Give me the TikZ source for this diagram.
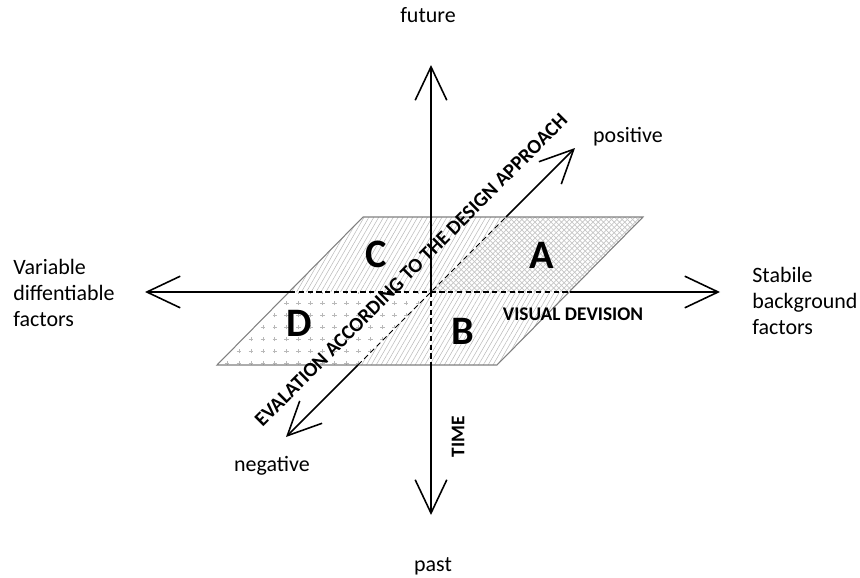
\documentclass[tikz,border=0pt]{standalone}
\usepackage{fontspec}
\setmainfont{Carlito}
\usetikzlibrary{arrows.meta,patterns,patterns.meta}

% plus signs for the lower left part of the plane
\tikzdeclarepattern{
  name=plussigns,
  type=uncolored,
  bounding box={(-3.4pt,-3.4pt) and (3.4pt,3.4pt)},
  tile size={(6.8pt,6.8pt)},
  code={\draw[line width=0.35pt] (-1.3pt,0pt) -- (1.3pt,0pt) (0pt,-1.3pt) -- (0pt,1.3pt);}
}

\tikzset{
  axisline/.style={line width=0.9pt, -{Straight Barb[length=19pt,width=18pt]}},
  hiddenline/.style={line width=0.6pt, dash pattern=on 3pt off 2pt},
  planeedge/.style={draw=gray, line width=0.6pt},
  quadletter/.style={font=\fontsize{23}{27}\selectfont\bfseries, inner sep=0pt},
  sidetext/.style={font=\fontsize{12.5}{15}\selectfont, align=left, inner sep=0pt},
  boldtext/.style={font=\fontsize{11}{13}\selectfont\bfseries, inner sep=0pt}
}

\begin{document}
\begin{tikzpicture}[x=0.02cm, y=-0.02cm]
			\useasboundingbox (0,0) rectangle (860,578);
			
			% Points of the plane and of the axes
			\coordinate (O) at (431,292);
			\coordinate (tl) at (363,217);
			\coordinate (tr) at (643,217);
			\coordinate (br) at (497,365);
			\coordinate (bl) at (217,365);
			\coordinate (hl) at (290,292);
			\coordinate (hr) at (570,292);
			\coordinate (dt) at (506,217);
			\coordinate (db) at (358,365);
			\coordinate (vb) at (431,365);
			\coordinate (top) at (431,65);
			\coordinate (bottom) at (431,515);
			\coordinate (left) at (145,292);
			\coordinate (right) at (720,292);
			\coordinate (pos) at (575,148);
			\coordinate (neg) at (286,437);
			
			% Fill the four parts of the plane
			\fill[pattern={Lines[angle=60,distance=2.4pt,line width=0.3pt]}, pattern color=gray!55]
			(tl) -- (dt) -- (O) -- (hl) -- cycle;
			\fill[pattern=crosshatch, pattern color=gray!45]
			(dt) -- (tr) -- (hr) -- (O) -- cycle;
			\fill[pattern=plussigns, pattern color=gray!55]
			(hl) -- (O) -- (db) -- (bl) -- cycle;
			\fill[pattern={Lines[angle=60,distance=2.4pt,line width=0.3pt]}, pattern color=gray!55]
			(O) -- (hr) -- (br) -- (db) -- cycle;
			\draw[planeedge] (tl) -- (tr) -- (br) -- (bl) -- cycle;
			
			% Axes hidden under the plane
			\draw[hiddenline] (O) -- (vb);
			\draw[hiddenline] (hl) -- (hr);
			\draw[hiddenline] (db) -- (dt);
			
			% Draw axes
			\draw[axisline] (O) -- (top);
			\draw[axisline] (vb) -- (bottom);
			\draw[axisline] (hl) -- (left);
			\draw[axisline] (hr) -- (right);
			\draw[axisline] (db) -- (neg);
			\draw[axisline] (dt) -- (pos);
			
			% Labels at the ends of the axes
			\node[sidetext] (future) at (428,15) {future};
			\node[sidetext] (past) at (433,566) {past};
			\node[sidetext] (positive) at (628,137) {positive};
			\node[sidetext] (negative) at (272,466) {negative};
			\node[sidetext, anchor=west] (variable) at (13,293) {Variable\\diffentiable\\factors};
			\node[sidetext, anchor=west] (stabile) at (752,301) {Stabile\\background\\factors};
			
			% Names of the axes
			\node[boldtext, rotate=90] (time) at (458,437) {TIME};
			\node[boldtext] (visual) at (573,314) {VISUAL DEVISION};
			\node[boldtext, font=\fontsize{11.5}{13}\selectfont\bfseries, rotate=45] (evaluation) at (411,270) {EVALATION ACCORDING TO THE DESIGN APPROACH};
			
			% Letters of the four parts
			\node[quadletter] (C) at (376,254) {C};
			\node[quadletter] (A) at (542,255) {A};
			\node[quadletter] (D) at (299,323) {D};
			\node[quadletter] (B) at (463,331) {B};
			
		\end{tikzpicture}
\end{document}
